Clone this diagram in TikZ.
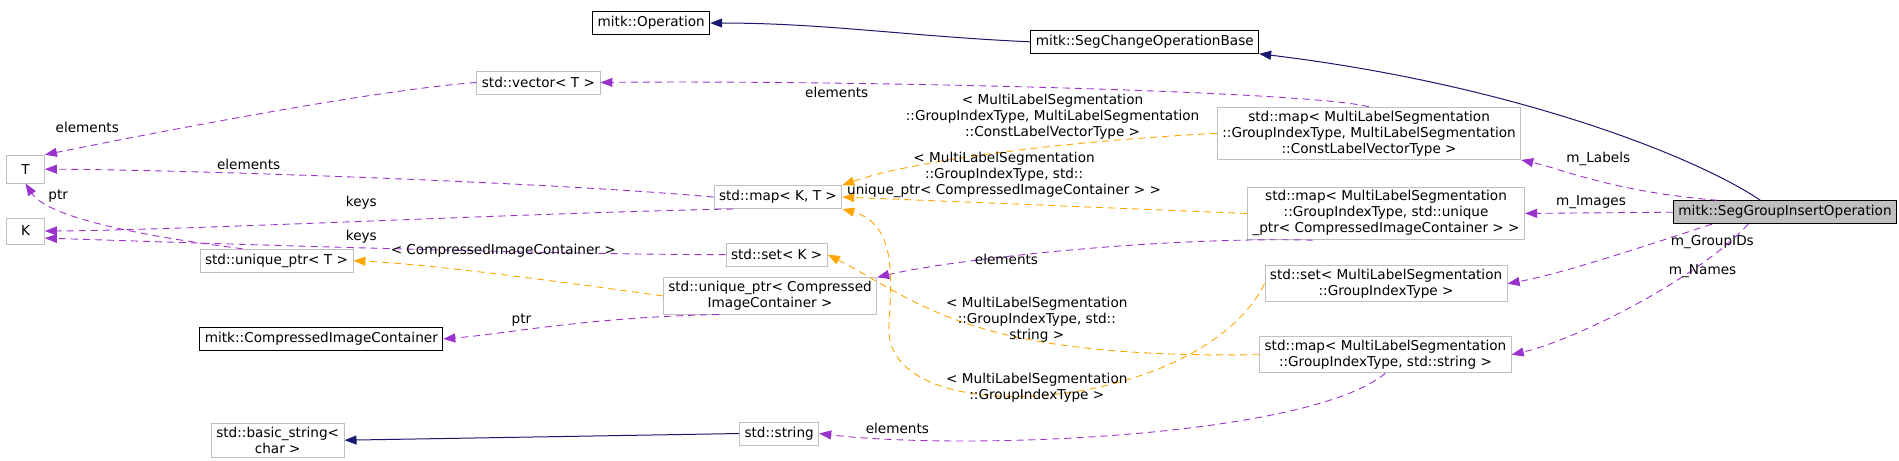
\documentclass[tikz,border=0pt]{standalone}
\usepackage{fontspec}
\setmainfont{DejaVu Sans}
\usetikzlibrary{arrows.meta}
\definecolor{pur}{HTML}{9A32CD}
\definecolor{org}{HTML}{FFA500}
\definecolor{nav}{HTML}{191970}
\definecolor{gbd}{HTML}{BFBFBF}
\begin{document}
\begin{tikzpicture}[x=1.2127pt,y=-1.2127pt,
  every node/.style={font=\fontsize{13.6}{16}\selectfont},
  box/.style={draw=gbd,line width=0.9pt,fill=white,align=center,inner xsep=5pt,inner ysep=3.5pt,minimum height=23pt},
  bbox/.style={box,draw=black},
  lbl/.style={align=center,inner sep=0pt},
  tip/.style={-{Triangle[length=12pt,width=9pt]}},
  use/.style={tip,pur,dash pattern=on 7pt off 5pt,line width=0.9pt},
  tmpl/.style={tip,org,dash pattern=on 7pt off 5pt,line width=0.9pt},
  inh/.style={tip,nav,line width=1pt}]
\useasboundingbox (0,0) rectangle (1566,380.1);
\node[bbox,fill=gbd] (sgio) at (1472,175) {mitk::SegGroupInsertOperation};
\node[bbox] (op) at (537,19) {mitk::Operation};
\node[bbox] (scob) at (944,34.5) {mitk::SegChangeOperationBase};
\node[box] (vec) at (444,68) {std::vector< T >};
\node[box] (mapL) at (1129,110) {std::map< MultiLabelSegmentation\\::GroupIndexType, MultiLabelSegmentation\\::ConstLabelVectorType >};
\node[box,minimum width=38pt,minimum height=28pt] (T) at (21,139.5) {T};
\node[box] (mapKT) at (641.5,162.5) {std::map< K, T >};
\node[box] (mapI) at (1143,176) {std::map< MultiLabelSegmentation\\::GroupIndexType, std::unique\\\_ptr< CompressedImageContainer > >};
\node[box,minimum width=38pt,minimum height=26pt] (K) at (21,190.5) {K};
\node[box] (setK) at (640.5,210) {std::set< K >};
\node[box] (setG) at (1143,234) {std::set< MultiLabelSegmentation\\::GroupIndexType >};
\node[box] (upT) at (228,215) {std::unique\_ptr< T >};
\node[box] (upC) at (635,244) {std::unique\_ptr< Compressed\\ImageContainer >};
\node[bbox] (cic) at (265,279.5) {mitk::CompressedImageContainer};
\node[box] (mapN) at (1142.5,292.5) {std::map< MultiLabelSegmentation\\::GroupIndexType, std::string >};
\node[box] (bstr) at (229,363) {std::basic\_string<\\char >};
\node[box] (str) at (642.5,357.5) {std::string};
% inheritance
\draw[inh] (scob.west) .. controls (750,30) and (680,19) .. (op.east);
\draw[inh] (sgio.north west) ++(72,0) coordinate (s1) .. controls (1400,130) and (1250,70) .. (scob.south east) ;
\draw[inh] (str.west) -- (bstr.east);
% usage
\draw[use] (sgio.170) .. controls (1330,158) and (1290,140) .. (mapL.south east);
\node[lbl] (l1) at (1318,131) {m\_Labels};
\draw[use] (sgio.west) -- (mapI.east);
\node[lbl] (l2) at (1312,167) {m\_Images};
\draw[use] (sgio.south west) ++(32,0) coordinate (s2) .. controls (1350,205) and (1290,225) .. (setG.east);
\node[lbl] (l3) at (1412,200) {m\_GroupIDs};
\draw[use] (sgio.south west) ++(62,0) coordinate (s3) .. controls (1400,230) and (1300,280) .. (mapN.east);
\node[lbl] (l4) at (1404,224) {m\_Names};
\draw[use] (mapL.north) .. controls (1080,75) and (700,66) .. (vec.east);
\node[lbl] (l5) at (690,76) {elements};
\draw[use] (vec.west) .. controls (300,75) and (100,115) .. (T.north east);
\node[lbl] (l6) at (72,105) {elements};
\draw[use] (mapKT.west) .. controls (450,150) and (150,140) .. (T.east);
\node[lbl] (l7) at (205,136) {elements};
\draw[use] (mapKT.195) .. controls (450,175) and (150,190) .. (K.east);
\node[lbl] (l8) at (298,167) {keys};
\draw[use] (setK.west) .. controls (450,210) and (150,200) .. (K.340);
\node[lbl] (l9) at (298,195) {keys};
\draw[use] (upT.north) ++(-28,0) coordinate (u1) .. controls (120,195) and (40,180) .. (T.south);
\node[lbl] (l10) at (48,162) {ptr};
\draw[use] (mapI.200) .. controls (950,195) and (780,215) .. (upC.north east);
\node[lbl] (l11) at (830,214) {elements};
\draw[use] (upC.200) .. controls (480,262) and (420,275) .. (cic.east);
\node[lbl] (l12) at (430,264) {ptr};
\draw[use] (mapN.south) .. controls (1080,360) and (800,372) .. (str.east);
\node[lbl] (l13) at (740,353) {elements};
% templates
\draw[tmpl] (mapL.west) .. controls (900,115) and (760,130) .. (mapKT.north east);
\node[lbl] (l14) at (868,96) {< MultiLabelSegmentation\\::GroupIndexType, MultiLabelSegmentation\\::ConstLabelVectorType >};
\draw[tmpl] (mapI.west) -- (mapKT.east);
\node[lbl] (l15) at (828,144) {< MultiLabelSegmentation\\::GroupIndexType, std::\\unique\_ptr< CompressedImageContainer > >};
\draw[tmpl] (mapN.west) .. controls (800,296) and (760,250) .. (setK.east);
\node[lbl] (l16) at (855,264) {< MultiLabelSegmentation\\::GroupIndexType, std::\\string >};
\draw[tmpl] (setG.west) .. controls (990,340) and (730,360) .. (733,270) .. controls (735,230) and (740,185) .. (mapKT.south east);
\node[lbl] (l17) at (855,320) {< MultiLabelSegmentation\\::GroupIndexType >};
\draw[tmpl] (upC.west) .. controls (480,235) and (360,218) .. (upT.east);
\node[lbl] (l18) at (415,207) {< CompressedImageContainer >};
\end{tikzpicture}
\end{document}
